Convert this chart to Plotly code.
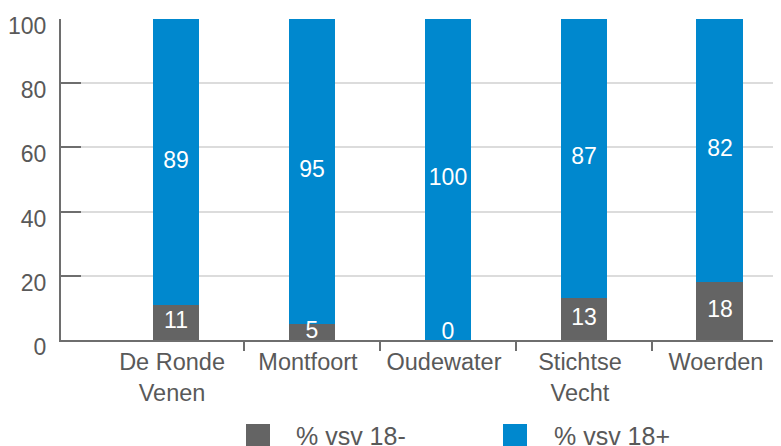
import plotly.graph_objects as go

categories = ["De Ronde<br>Venen", "Montfoort", "Oudewater", "Stichtse<br>Vecht", "Woerden"]
under18 = [11, 5, 0, 13, 18]
over18 = [89, 95, 100, 87, 82]
series_names = ["% vsv 18-", "% vsv 18+"]
y_ticks = [0, 20, 40, 60, 80, 100]

GRAY = "#646464"
BLUE = "#0088CE"
AXIS = "#6e6e6e"
TEXT = "#595959"
FONT = "Liberation Sans, Arial, sans-serif"
FS = 23

# the page body has an 8px margin; figure is sized to fill the rest of the window
OFF = 8
W, H = 781 - OFF, 446 - OFF
# plot area in page pixels: x 61..781, y 19..340
ML, MR, MT, MB = 61 - OFF, 0, 19 - OFF, 446 - 340

x = list(range(len(categories)))

fig = go.Figure()
fig.add_trace(go.Bar(x=x, y=under18, name=series_names[0], marker=dict(color=GRAY, line=dict(width=0)),
                     width=0.345, hoverinfo="skip"))
fig.add_trace(go.Bar(x=x, y=over18, name=series_names[1], marker=dict(color=BLUE, line=dict(width=0)),
                     width=0.345, hoverinfo="skip"))

# data labels centered in each segment
gray_pos = [max(v / 2, 2.2) for v in under18]
blue_pos = [u + v / 2 for u, v in zip(under18, over18)]
fig.add_trace(go.Scatter(x=x, y=gray_pos, mode="text", text=[str(v) for v in under18],
                         textfont=dict(color="white", size=FS, family=FONT), hoverinfo="skip", cliponaxis=False))
fig.add_trace(go.Scatter(x=x, y=blue_pos, mode="text", text=[str(v) for v in over18],
                         textfont=dict(color="white", size=FS, family=FONT), hoverinfo="skip", cliponaxis=False))

fig.update_layout(
    width=W, height=H,
    margin=dict(l=ML, r=MR, t=MT, b=MB, pad=0, autoexpand=False),
    barmode="stack",
    showlegend=False,
    plot_bgcolor="white", paper_bgcolor="white",
    font=dict(family=FONT, size=FS, color=TEXT),
    xaxis=dict(
        range=[-0.846, 4.449],
        tickmode="array", tickvals=x, ticktext=categories,
        ticks="", showgrid=False, zeroline=False,
        showline=True, linecolor=AXIS, linewidth=2,
        tickfont=dict(size=23.5, color=TEXT, family=FONT),
        ticklabelshift=-4,
        minor=dict(tickvals=[i + 0.5 for i in x[:-1]], ticks="outside", ticklen=9,
                   tickwidth=2, tickcolor=AXIS, showgrid=False),
        automargin=False,
        fixedrange=True,
    ),
    yaxis=dict(
        range=[0, 100],
        tickmode="array", tickvals=y_ticks,
        ticks="inside", ticklen=20, tickwidth=2, tickcolor=AXIS,
        showline=True, linecolor=AXIS, linewidth=2,
        showgrid=True, gridcolor="#dcdcdc", gridwidth=2,
        zeroline=False,
        tickfont=dict(size=FS, color=TEXT, family=FONT),
        ticklabelstandoff=8, ticklabelshift=7,
        automargin=False,
        fixedrange=True,
    ),
)

# legend drawn below the chart (positions given in page pixels)
def px_to_paper_x(px):
    return (px - OFF - ML) / (W - ML - MR)

def px_to_paper_y(py):
    return (H - MB - (py - OFF)) / (H - MT - MB)

legend_items = [(series_names[0], GRAY, 246, 294), (series_names[1], BLUE, 503, 552)]
for name, color, sx, tx in legend_items:
    fig.add_shape(type="rect", xref="paper", yref="paper",
                  x0=px_to_paper_x(sx), x1=px_to_paper_x(sx + 24),
                  y0=px_to_paper_y(424), y1=px_to_paper_y(448),
                  fillcolor=color, line=dict(width=0))
    fig.add_annotation(xref="paper", yref="paper", x=px_to_paper_x(tx), y=px_to_paper_y(436),
                       xanchor="left", yanchor="middle", text=name, showarrow=False,
                       font=dict(size=25, color=TEXT, family=FONT))

fig.write_html("out.html")
